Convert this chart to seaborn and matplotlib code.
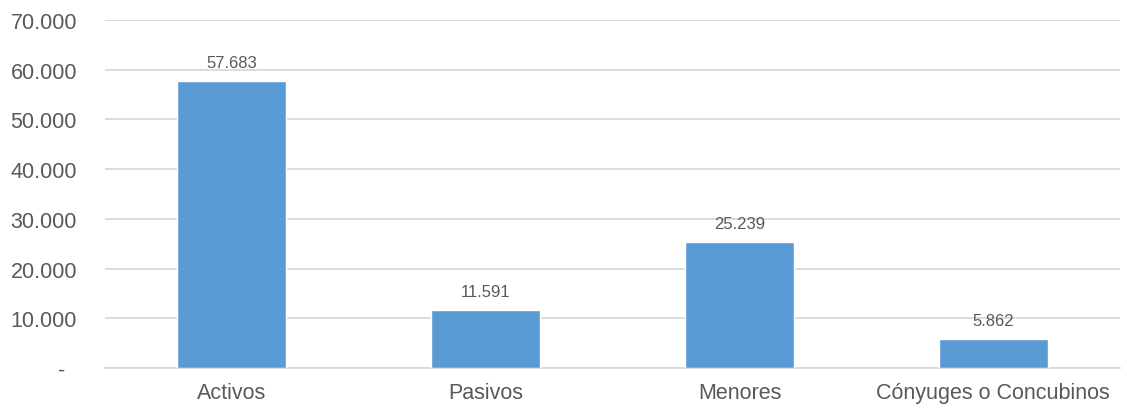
import seaborn as sns
import matplotlib.pyplot as plt
import matplotlib.ticker as mticker
import pandas as pd

# data
categorias = ["Activos", "Pasivos", "Menores", "Cónyuges o Concubinos"]
valores = [57683, 11591, 25239, 5862]
yticks = [0, 10000, 20000, 30000, 40000, 50000, 60000, 70000]

df = pd.DataFrame({"categoria": categorias, "valor": valores})

sns.set_style("white")
plt.rcParams["font.family"] = ["Liberation Sans", "DejaVu Sans"]

fig = plt.figure(figsize=(11.27, 4.14), dpi=100)
ax = fig.add_axes([0.093, 0.109, 0.901, 0.84])

sns.barplot(data=df, x="categoria", y="valor", color="#5B9BD5", width=0.43,
            saturation=1, ax=ax, zorder=3)

def miles(v, pos):
    if v == 0:
        return "-  "
    return f"{v:,.0f}".replace(",", ".")

ax.set_ylim(0, 70000)
ax.set_xlim(-0.5, 3.5)
ax.set_yticks(yticks)
ax.yaxis.set_major_formatter(mticker.FuncFormatter(miles))
ax.grid(axis="y", color="#D9D9D9", linewidth=1.3, zorder=0)
ax.set_xlabel("")
ax.set_ylabel("")
for s in ["top", "right", "left"]:
    ax.spines[s].set_visible(False)
ax.spines["bottom"].set_color("#D9D9D9")
ax.spines["bottom"].set_linewidth(1.3)
ax.tick_params(axis="both", length=0, labelsize=15.5, colors="#595959")
ax.tick_params(axis="x", pad=10)
ax.tick_params(axis="y", pad=20)

for i, v in enumerate(valores):
    ax.annotate(f"{v:,.0f}".replace(",", "."), (i, v), xytext=(0, 8),
                textcoords="offset points", ha="center", va="bottom",
                fontsize=12, color="#595959")

fig.savefig("out.png", dpi=100)
